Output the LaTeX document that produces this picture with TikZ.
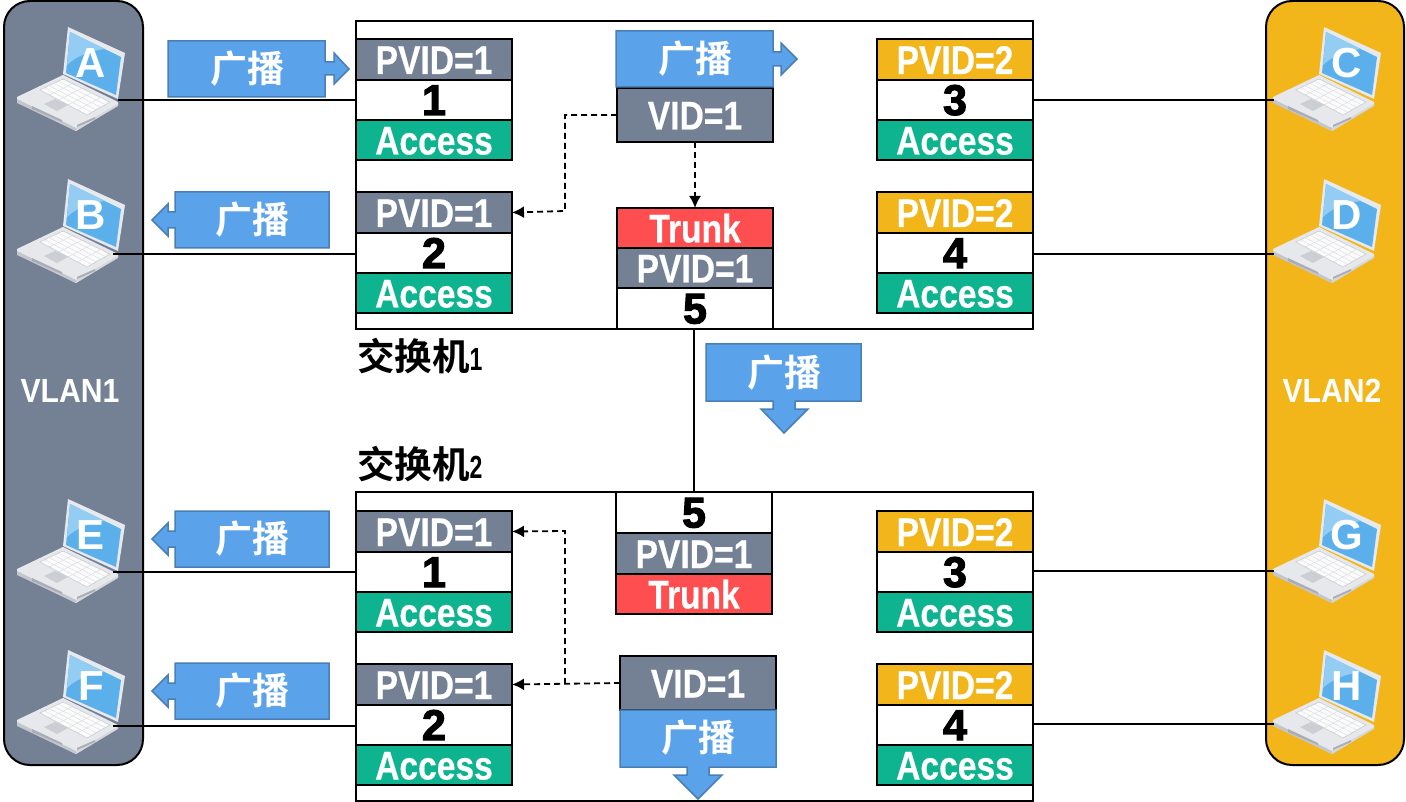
\documentclass[tikz,border=0pt]{standalone}
\usepackage{fontspec}
\setmainfont{Liberation Sans}
\newfontfamily\lat[FakeStretch=0.84,FakeBold=0.4]{Liberation Sans Bold}
\newfontfamily\narrow[FakeStretch=0.72]{Liberation Sans Bold}
\newfontfamily\vl[FakeStretch=0.9]{Liberation Sans Bold}
\newfontfamily\numf[FakeBold=2.5]{Liberation Sans Bold}
\newfontfamily\plain{Liberation Sans Bold}
\newfontfamily\cjk{Noto Sans CJK SC Bold}
\usetikzlibrary{arrows.meta,calc}
\definecolor{vgray}{HTML}{748093}
\definecolor{vyel}{HTML}{F3B61A}
\definecolor{vgreen}{HTML}{0DB48F}
\definecolor{vred}{HTML}{FF4E50}
\definecolor{vblue}{HTML}{5AA2EA}
\definecolor{vedge}{HTML}{4A7FB5}
\definecolor{lapbody}{HTML}{E6E8EC}
\definecolor{lapframe}{HTML}{E6E9EE}
\definecolor{lapedge}{HTML}{A9ADB5}
\definecolor{scr}{HTML}{5BB0EC}
\definecolor{scrl}{HTML}{93CDF4}
\tikzset{
  x=1pt,y=-1pt,
  cell/.style={draw=black,line width=2pt,outer sep=0pt,minimum width=156pt,inner sep=0pt,text=white,font=\lat\fontsize{40}{40}\selectfont,text height=29pt,text depth=0pt},
  numcell/.style={cell,text=black,font=\numf\fontsize{43}{43}\selectfont,text height=30pt},
  wire/.style={draw=black,line width=1.8pt},
  dashline/.style={draw=black,line width=1.8pt,dash pattern=on 6pt off 4pt,-{Latex[length=12pt,width=12pt]}},
  bubble/.style={fill=vblue,draw=vedge,line width=1.5pt,line join=miter},
  btext/.style={text=white,font=\cjk\fontsize{37}{37}\selectfont,inner sep=0pt},
  swbox/.style={draw=black,line width=2pt,fill=white,outer sep=0pt},
  vlanbox/.style={draw=black,line width=2pt,rounded corners=26pt},
  vlantext/.style={text=white,font=\vl\fontsize{33.5}{33.5}\selectfont,inner sep=0pt},
  swtext/.style={text=black,font=\cjk\fontsize{37.5}{37.5}\selectfont,inner sep=0pt,anchor=west},
  laptext/.style={text=white,font=\plain\fontsize{42}{42}\selectfont,inner sep=0pt},
}
% laptop: x offset, y offset, letter, node name
\newcommand{\laptop}[4]{%
\begin{scope}[shift={(#1,#2)}]
  \fill[lapbody] (0,70)--(46,48)--(101,75)--(101,78)--(59,104)--(0,75)--cycle;
  \fill[lapedge!70] (0,72)--(59,101)--(59,104)--(0,76)--cycle;
  \fill[lapedge!50] (59,101)--(101,77)--(101,79)--(59,104)--cycle;
  \fill[lapframe] (51,0)--(108,26)--(101,72)--(46,47)--cycle;
  \fill[scr] (53,5)--(104,30)--(99,68)--(49,46)--cycle;
  \fill[scrl] (53,5)--(88,22) .. controls (72,24) and (58,30) .. (50,38)--cycle;
  \fill[white!97!gray,draw=lapedge!70,line width=.5pt] (23,63)--(46,52)--(93,75)--(70,88)--cycle;
  \foreach \t in {.2,.4,.6,.8}{
    \draw[lapedge!45,line width=.4pt] ($(23,63)!\t!(46,52)$)--($(70,88)!\t!(93,75)$);
    \draw[lapedge!45,line width=.4pt] ($(23,63)!\t!(70,88)$)--($(46,52)!\t!(93,75)$);
  }
  \fill[lapedge!60] (27,77)--(38,72)--(51,78)--(40,84)--cycle;
  \fill[lapedge] (15,79)--(45,93)--(45,95)--(15,82)--cycle;
  \fill[lapedge] (60,98)--(78,90)--(78,92)--(60,100)--cycle;
  \node[laptext] (#4) at (74,36) {#3};
\end{scope}}
% port block: name prefix, left x, top y, colour, pvid text, number
\newcommand{\portb}[6]{%
  \node[cell,fill=#4,minimum height=41pt,anchor=north west] (#1t) at (#2,#3) {PVID=#5};
  \node[numcell,fill=white,minimum height=40pt,anchor=north west] (#1m) at (#2,#3+41) {#6};
  \node[cell,fill=vgreen,minimum height=40pt,anchor=north west] (#1b) at (#2,#3+81) {Access};
}
% left-pointing bubble: name, centre y
\newcommand{\lbubble}[2]{%
  \draw[bubble] (175,#2-28)--(329,#2-28)--(329,#2+28)--(175,#2+28)--(175,#2+8)--(168,#2+8)--(168,#2+16)--(152,#2)--(168,#2-16)--(168,#2-8)--(175,#2-8)--cycle;
  \node[btext] (#1) at (252,#2) {广播};
}
\begin{document}
\begin{tikzpicture}
\useasboundingbox (0,0) rectangle (1406,802);
\fill[white] (0,0) rectangle (1406,802);
% VLAN bands
\draw[vlanbox,fill=vgray] (4,1) rectangle (143,765);
\draw[vlanbox,fill=vyel] (1266,1) rectangle (1404,765);
\node[vlantext] (v1) at (70,391) {VLAN1};
\node[vlantext] (v2) at (1332,391) {VLAN2};
% switches
\node[swbox,minimum width=677pt,minimum height=308pt,anchor=north west,inner sep=0pt] (sw1) at (356,21) {};
\node[swbox,minimum width=677pt,minimum height=309pt,anchor=north west,inner sep=0pt] (sw2) at (356,492) {};
\node[swtext] (sw1l) at (357,356) {交换机{\narrow\fontsize{32}{32}\selectfont 1}};
\node[swtext] (sw2l) at (357,464) {交换机{\narrow\fontsize{32}{32}\selectfont 2}};
% ports
\portb{a}{356}{39}{vgray}{1}{1}
\portb{b}{356}{192}{vgray}{1}{2}
\portb{c}{877}{39}{vyel}{2}{3}
\portb{d}{877}{192}{vyel}{2}{4}
\portb{e}{356}{511}{vgray}{1}{1}
\portb{f}{356}{664}{vgray}{1}{2}
\portb{g}{877}{511}{vyel}{2}{3}
\portb{h}{877}{664}{vyel}{2}{4}
% trunk switch 1
\node[cell,fill=vred,minimum height=40pt,anchor=north west] (t1r) at (617,208) {Trunk};
\node[cell,fill=vgray,minimum height=40pt,anchor=north west] (t1g) at (617,248) {PVID=1};
\node[numcell,fill=white,minimum height=41pt,anchor=north west] (t1n) at (617,288) {5};
% trunk switch 2
\node[numcell,fill=white,minimum height=41pt,anchor=north west] (t2n) at (616,492) {5};
\node[cell,fill=vgray,minimum height=41pt,anchor=north west] (t2g) at (616,533) {PVID=1};
\node[cell,fill=vred,minimum height=40pt,anchor=north west] (t2r) at (616,574) {Trunk};
% VID
\node[cell,fill=vgray,minimum height=54pt,anchor=north west] (vid1) at (617,88) {VID=1};
\node[cell,fill=vgray,minimum height=54pt,anchor=north west] (vid2) at (620,656) {VID=1};
% end points on the laptops
\coordinate (la) at (118,100);
\coordinate (lb) at (113,254);
\coordinate (le) at (113,572);
\coordinate (lf) at (113,726);
\coordinate (lc) at (1274,100);
\coordinate (ld) at (1274,254);
\coordinate (lg) at (1274,571);
\coordinate (lh) at (1274,724);
% laptops
\laptop{17}{27}{A}{pa}
\laptop{17}{179}{B}{pb}
\laptop{17}{499}{E}{pe}
\laptop{17}{650}{F}{pf}
\laptop{1273}{27}{C}{pc}
\laptop{1273}{179}{D}{pd}
\laptop{1273}{499}{G}{pg}
\laptop{1273}{650}{H}{ph}
% wires
\draw[wire] (la)--(la-|am.west);
\draw[wire] (lb)--(lb-|bm.west);
\draw[wire] (le)--(le-|em.west);
\draw[wire] (lf)--(lf-|fm.west);
\draw[wire] (cm.east|-lc)--(lc);
\draw[wire] (dm.east|-ld)--(ld);
\draw[wire] (gm.east|-lg)--(lg);
\draw[wire] (hm.east|-lh)--(lh);
\draw[wire] (t2n.north)--(t2n.north|-t1n.south);
% dashed
\draw[dashline] (vid1.west)-|(565,211)--(bt.east);
\draw[dashline] (vid1.south)--(t1r.north);
\draw[dashline] (vid2.west)--(ft.east);
\draw[dashline] (565,684)--(565,531)--(et.east);
% broadcast bubbles
\draw[bubble] (168,41)--(325,41)--(325,62)--(334,62)--(334,53)--(349,69)--(334,84)--(334,75)--(325,75)--(325,97)--(168,97)--cycle;
\node[btext] (ba) at (247,69) {广播};
\lbubble{bb}{220}
\lbubble{be}{539}
\lbubble{bf}{691}
\draw[bubble] (616,31)--(773,31)--(773,52)--(781,52)--(781,43)--(797,59)--(781,75)--(781,66)--(773,66)--(773,87)--(616,87)--cycle;
\node[btext] (bs1) at (695,59) {广播};
\draw[bubble] (706,344)--(861,344)--(861,401)--(795,401)--(795,409)--(808,409)--(784,433)--(761,409)--(773,409)--(773,401)--(706,401)--cycle;
\node[btext] (bl) at (784,373) {广播};
\draw[bubble] (620,710)--(776,710)--(776,767)--(709,767)--(709,775)--(722,775)--(698,799)--(674,775)--(687,775)--(687,767)--(620,767)--cycle;
\node[btext] (bs2) at (698,738) {广播};
\end{tikzpicture}
\end{document}
